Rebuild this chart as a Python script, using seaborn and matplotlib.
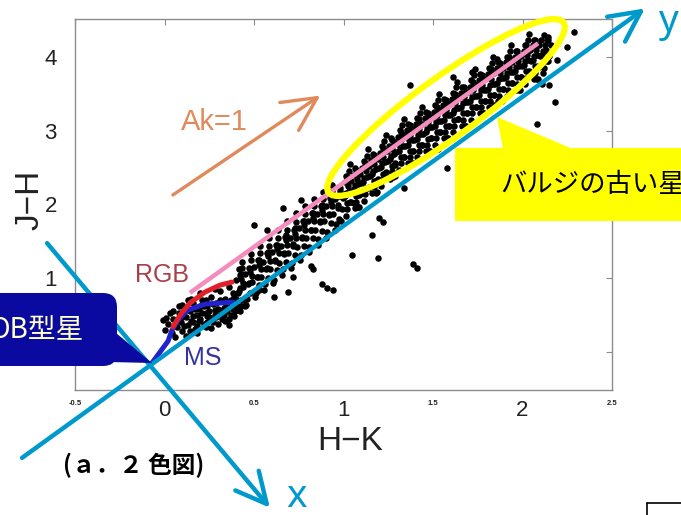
import numpy as np
import pandas as pd
import seaborn as sns
import matplotlib
matplotlib.use("Agg")
import matplotlib.pyplot as plt
from matplotlib.patches import Ellipse, Polygon, FancyBboxPatch, ArrowStyle
from matplotlib.transforms import Affine2D

# ---------------- data ----------------
# clump of stars near the origin (RGB / MS region)
hk_clump = [0.00, 0.02, 0.04, 0.05, 0.07, 0.08, 0.09, 0.10, 0.11, 0.12, 0.13, 0.14, 0.15, 0.16, 0.17,
            0.18, 0.19, 0.20, 0.21, 0.22, 0.23, 0.24, 0.25, 0.26, 0.27, 0.28, 0.29, 0.30, 0.31, 0.32,
            0.33, 0.34, 0.35, 0.36, 0.37, 0.38, 0.39, 0.40, 0.06, 0.03, -0.01, 0.12, 0.18, 0.24, 0.30,
            0.36, 0.42, 0.44, 0.20, 0.15, 0.28, 0.10, 0.45,
            0.05, 0.08, 0.11, 0.13, 0.14, 0.16, 0.17, 0.19, 0.21, 0.22, 0.23, 0.25, 0.26, 0.27, 0.29,
            0.30, 0.32, 0.33, 0.34, 0.35, 0.37, 0.38, 0.40, 0.41, 0.43, 0.09, 0.13, 0.18, 0.23, 0.26,
            0.31, 0.36, 0.01, 0.07, 0.20, 0.28, 0.33, 0.39, 0.24, 0.16]
jh_clump = [0.30, 0.38, 0.25, 0.45, 0.33, 0.52, 0.40, 0.28, 0.60, 0.47, 0.36, 0.55, 0.42, 0.66, 0.31,
            0.50, 0.58, 0.44, 0.70, 0.37, 0.53, 0.62, 0.47, 0.75, 0.40, 0.57, 0.66, 0.50, 0.82, 0.45,
            0.60, 0.72, 0.55, 0.88, 0.50, 0.68, 0.78, 0.62, 0.20, 0.52, 0.43, 0.22, 0.35, 0.40, 0.38,
            0.45, 0.55, 0.70, 0.80, 0.72, 0.85, 0.64, 0.62,
            0.55, 0.62, 0.35, 0.70, 0.28, 0.48, 0.58, 0.42, 0.52, 0.62, 0.34, 0.56, 0.44, 0.65, 0.47,
            0.58, 0.55, 0.68, 0.42, 0.62, 0.70, 0.58, 0.72, 0.80, 0.62, 0.47, 0.58, 0.26, 0.70, 0.32,
            0.70, 0.36, 0.46, 0.42, 0.62, 0.50, 0.50, 0.48, 0.48, 0.40]

# reddened giants along the reddening band, lower part
hk_band_lo = [0.41, 0.39, 0.42, 0.40, 0.43, 0.38, 0.395, 0.415,
              0.46, 0.44, 0.47, 0.45, 0.48, 0.43, 0.455, 0.435,
              0.51, 0.49, 0.52, 0.50, 0.53, 0.48, 0.505, 0.485,
              0.56, 0.54, 0.57, 0.55, 0.58, 0.53, 0.555, 0.535,
              0.61, 0.59, 0.62, 0.60, 0.63, 0.58, 0.605, 0.585,
              0.66, 0.64, 0.67, 0.65, 0.68, 0.63, 0.655, 0.635,
              0.71, 0.69, 0.72, 0.70, 0.73, 0.68, 0.705, 0.685,
              0.76, 0.74, 0.77, 0.75, 0.78, 0.73, 0.755, 0.735,
              0.81, 0.79, 0.82, 0.80, 0.83, 0.78, 0.805, 0.785,
              0.86, 0.84, 0.87, 0.85, 0.88, 0.83, 0.855, 0.835,
              0.91, 0.89, 0.92, 0.90, 0.93, 0.88, 0.905, 0.885,
              0.96, 0.94, 0.97, 0.95, 0.98, 0.93, 0.955, 0.935,
              0.975, 0.975, 0.972]
jh_band_lo = [0.62, 0.74, 0.86, 0.97, 1.05, 0.80, 0.55, 1.12,
              0.72, 0.88, 0.93, 1.06, 1.12, 0.99, 0.64, 1.22,
              0.80, 0.95, 1.02, 1.15, 1.24, 1.08, 0.74, 1.33,
              0.92, 1.01, 1.14, 1.22, 1.35, 1.18, 0.84, 1.43,
              0.98, 1.12, 1.24, 1.36, 1.45, 1.30, 0.94, 1.55,
              1.12, 1.20, 1.33, 1.44, 1.58, 1.39, 1.04, 1.66,
              1.20, 1.34, 1.47, 1.55, 1.68, 1.52, 1.14, 1.77,
              1.32, 1.42, 1.56, 1.68, 1.78, 1.60, 1.24, 1.88,
              1.42, 1.55, 1.65, 1.77, 1.89, 1.72, 1.35, 1.98,
              1.53, 1.66, 1.78, 1.87, 1.99, 1.82, 1.45, 2.08,
              1.62, 1.77, 1.86, 1.98, 2.08, 1.93, 1.55, 2.17,
              1.74, 1.87, 1.99, 2.08, 2.19, 2.03, 1.65, 2.27,
              1.80, 2.12, 1.95]

hk_band_lo2 = [0.429, 0.417, 0.437, 0.422, 0.433,
               0.479, 0.467, 0.487, 0.472, 0.483,
               0.529, 0.517, 0.537, 0.522, 0.533,
               0.579, 0.567, 0.587, 0.572, 0.583,
               0.629, 0.617, 0.637, 0.622, 0.633,
               0.679, 0.667, 0.687, 0.672, 0.683,
               0.729, 0.717, 0.737, 0.722, 0.733,
               0.779, 0.767, 0.787, 0.772, 0.783,
               0.829, 0.817, 0.837, 0.822, 0.833,
               0.879, 0.867, 0.887, 0.872, 0.883,
               0.929, 0.917, 0.937, 0.922, 0.933]
jh_band_lo2 = [0.70, 0.82, 0.93, 1.04, 1.14,
               0.80, 0.92, 1.03, 1.14, 1.24,
               0.90, 1.02, 1.13, 1.24, 1.34,
               1.00, 1.12, 1.23, 1.34, 1.44,
               1.11, 1.23, 1.34, 1.45, 1.55,
               1.22, 1.34, 1.45, 1.56, 1.66,
               1.32, 1.44, 1.55, 1.66, 1.76,
               1.43, 1.55, 1.66, 1.77, 1.87,
               1.54, 1.66, 1.77, 1.88, 1.98,
               1.64, 1.76, 1.87, 1.98, 2.08,
               1.75, 1.87, 1.98, 2.09, 2.19]

# old bulge stars, dense upper part of the band
hk_band_hi = [1.012, 0.990, 1.020, 0.996, 1.016, 0.982, 1.006, 1.022, 0.986,
              1.062, 1.040, 1.070, 1.046, 1.066, 1.032, 1.056, 1.072, 1.036,
              1.112, 1.090, 1.120, 1.096, 1.116, 1.082, 1.106, 1.122, 1.086,
              1.162, 1.140, 1.170, 1.146, 1.166, 1.132, 1.156, 1.172, 1.136,
              1.212, 1.190, 1.220, 1.196, 1.216, 1.182, 1.206, 1.222, 1.186,
              1.262, 1.240, 1.270, 1.246, 1.266, 1.232, 1.256, 1.272, 1.236,
              1.312, 1.290, 1.320, 1.296, 1.316, 1.282, 1.306, 1.322, 1.286,
              1.362, 1.340, 1.370, 1.346, 1.366, 1.332, 1.356, 1.372, 1.336,
              1.412, 1.390, 1.420, 1.396, 1.416, 1.382, 1.406, 1.422, 1.386,
              1.462, 1.440, 1.470, 1.446, 1.466, 1.432, 1.456, 1.472, 1.436,
              1.512, 1.490, 1.520, 1.496, 1.516, 1.482, 1.506, 1.522, 1.486,
              1.562, 1.540, 1.570, 1.546, 1.566, 1.532, 1.556, 1.572, 1.536,
              1.612, 1.590, 1.620, 1.596, 1.616, 1.582, 1.606, 1.622, 1.586,
              1.662, 1.640, 1.670, 1.646, 1.666, 1.632, 1.656, 1.672, 1.636,
              1.712, 1.690, 1.720, 1.696, 1.716, 1.682, 1.706, 1.722, 1.686,
              1.762, 1.740, 1.770, 1.746, 1.766, 1.732, 1.756, 1.772, 1.736,
              1.812, 1.790, 1.820, 1.796, 1.816, 1.782, 1.806, 1.822, 1.786,
              1.862, 1.840, 1.870, 1.846, 1.866, 1.832, 1.856, 1.872, 1.836,
              1.912, 1.890, 1.920, 1.896, 1.916, 1.882, 1.906, 1.922, 1.886,
              1.962, 1.940, 1.970, 1.946, 1.966, 1.932, 1.956, 1.972, 1.936,
              2.012, 1.990, 2.020, 1.996, 2.016, 1.982, 2.006, 2.022, 1.986,
              2.062, 2.040, 2.070, 2.046, 2.066, 2.032, 2.056, 2.072, 2.036,
              2.112, 2.090, 2.120, 2.096, 2.116, 2.082, 2.106, 2.122, 2.086,
              2.140, 2.150, 2.128, 2.160, 2.135, 2.145]
jh_band_hi = [1.85, 1.94, 2.02, 2.09, 2.16, 2.23, 2.30, 2.37, 1.77,
              1.95, 2.04, 2.12, 2.19, 2.26, 2.33, 2.40, 2.47, 2.55,
              2.05, 2.14, 2.22, 2.29, 2.36, 2.43, 2.50, 2.57, 1.97,
              2.15, 2.24, 2.32, 2.39, 2.46, 2.53, 2.60, 2.67, 2.75,
              2.25, 2.34, 2.42, 2.49, 2.56, 2.63, 2.70, 2.77, 2.17,
              2.35, 2.44, 2.52, 2.59, 2.66, 2.73, 2.80, 2.87, 2.95,
              2.47, 2.56, 2.64, 2.71, 2.78, 2.85, 2.92, 2.99, 2.39,
              2.56, 2.65, 2.73, 2.80, 2.87, 2.94, 3.01, 3.08, 3.16,
              2.64, 2.73, 2.81, 2.88, 2.95, 3.02, 3.09, 3.16, 2.56,
              2.72, 2.81, 2.89, 2.96, 3.03, 3.10, 3.17, 3.24, 3.32,
              2.81, 2.90, 2.98, 3.05, 3.12, 3.19, 3.26, 3.33, 2.73,
              2.90, 2.99, 3.07, 3.14, 3.21, 3.28, 3.35, 3.42, 3.50,
              2.98, 3.07, 3.15, 3.22, 3.29, 3.36, 3.43, 3.50, 2.90,
              3.07, 3.16, 3.24, 3.31, 3.38, 3.45, 3.52, 3.59, 3.67,
              3.15, 3.24, 3.32, 3.39, 3.46, 3.53, 3.60, 3.67, 3.07,
              3.24, 3.33, 3.41, 3.48, 3.55, 3.62, 3.69, 3.76, 3.84,
              3.32, 3.41, 3.49, 3.56, 3.63, 3.70, 3.77, 3.84, 3.24,
              3.40, 3.49, 3.57, 3.64, 3.71, 3.78, 3.85, 3.92, 4.00,
              3.48, 3.57, 3.65, 3.72, 3.79, 3.86, 3.93, 4.00, 3.40,
              3.56, 3.65, 3.73, 3.80, 3.87, 3.94, 4.01, 4.08, 4.16,
              3.64, 3.73, 3.81, 3.88, 3.95, 4.02, 4.09, 4.16, 3.56,
              3.71, 3.80, 3.88, 3.95, 4.02, 4.09, 4.16, 4.23, 4.31,
              3.78, 3.87, 3.95, 4.02, 4.09, 4.16, 4.23, 4.30, 3.70,
              3.95, 4.02, 4.09, 4.16, 4.23, 4.28]

hk_band_mid = [1.019, 1.039, 1.009, 1.033, 1.023, 1.043, 1.013, 1.029,
               1.069, 1.089, 1.059, 1.083, 1.073, 1.093, 1.063, 1.079,
               1.119, 1.139, 1.109, 1.133, 1.123, 1.143, 1.113, 1.129,
               1.169, 1.189, 1.159, 1.183, 1.173, 1.193, 1.163, 1.179,
               1.219, 1.239, 1.209, 1.233, 1.223, 1.243, 1.213, 1.229,
               1.269, 1.289, 1.259, 1.283, 1.273, 1.293, 1.263, 1.279,
               1.319, 1.339, 1.309, 1.333, 1.323, 1.343, 1.313, 1.329,
               1.369, 1.389, 1.359, 1.383, 1.373, 1.393, 1.363, 1.379,
               1.419, 1.439, 1.409, 1.433, 1.423, 1.443, 1.413, 1.429,
               1.469, 1.489, 1.459, 1.483, 1.473, 1.493, 1.463, 1.479,
               1.519, 1.539, 1.509, 1.533, 1.523, 1.543, 1.513, 1.529,
               1.569, 1.589, 1.559, 1.583, 1.573, 1.593, 1.563, 1.579,
               1.619, 1.639, 1.609, 1.633, 1.623, 1.643, 1.613, 1.629,
               1.669, 1.689, 1.659, 1.683, 1.673, 1.693, 1.663, 1.679,
               1.719, 1.739, 1.709, 1.733, 1.723, 1.743, 1.713, 1.729,
               1.769, 1.789, 1.759, 1.783, 1.773, 1.793, 1.763, 1.779,
               1.819, 1.839, 1.809, 1.833, 1.823, 1.843, 1.813, 1.829,
               1.869, 1.889, 1.859, 1.883, 1.873, 1.893, 1.863, 1.879,
               1.919, 1.939, 1.909, 1.933, 1.923, 1.943, 1.913, 1.929,
               1.969, 1.989, 1.959, 1.983, 1.973, 1.993, 1.963, 1.979,
               2.019, 2.039, 2.009, 2.033, 2.023, 2.043, 2.013, 2.029,
               2.069, 2.089, 2.059, 2.083, 2.073, 2.093, 2.063, 2.079,
               2.119, 2.139, 2.109, 2.133, 2.123, 2.143]
jh_band_mid = [1.94, 2.03, 2.11, 2.18, 2.25, 2.32, 2.39, 2.46,
               2.04, 2.13, 2.21, 2.28, 2.35, 2.42, 2.49, 1.96,
               2.14, 2.23, 2.31, 2.38, 2.45, 2.52, 2.59, 2.66,
               2.24, 2.33, 2.41, 2.48, 2.55, 2.62, 2.69, 2.16,
               2.34, 2.43, 2.51, 2.58, 2.65, 2.72, 2.79, 2.86,
               2.45, 2.54, 2.62, 2.69, 2.76, 2.83, 2.90, 2.37,
               2.56, 2.65, 2.73, 2.80, 2.87, 2.94, 3.01, 3.08,
               2.64, 2.73, 2.81, 2.88, 2.95, 3.02, 3.09, 2.56,
               2.72, 2.81, 2.89, 2.96, 3.03, 3.10, 3.17, 3.24,
               2.81, 2.90, 2.98, 3.05, 3.12, 3.19, 3.26, 2.73,
               2.90, 2.99, 3.07, 3.14, 3.21, 3.28, 3.35, 3.42,
               2.98, 3.07, 3.15, 3.22, 3.29, 3.36, 3.43, 2.90,
               3.07, 3.16, 3.24, 3.31, 3.38, 3.45, 3.52, 3.59,
               3.15, 3.24, 3.32, 3.39, 3.46, 3.53, 3.60, 3.07,
               3.24, 3.33, 3.41, 3.48, 3.55, 3.62, 3.69, 3.76,
               3.32, 3.41, 3.49, 3.56, 3.63, 3.70, 3.77, 3.24,
               3.40, 3.49, 3.57, 3.64, 3.71, 3.78, 3.85, 3.92,
               3.48, 3.57, 3.65, 3.72, 3.79, 3.86, 3.93, 3.40,
               3.56, 3.65, 3.73, 3.80, 3.87, 3.94, 4.01, 4.08,
               3.64, 3.73, 3.81, 3.88, 3.95, 4.02, 4.09, 3.56,
               3.72, 3.81, 3.89, 3.96, 4.03, 4.10, 4.17, 4.24,
               3.79, 3.88, 3.96, 4.03, 4.10, 4.17, 4.24, 3.71,
               3.86, 3.95, 4.03, 4.10, 4.17, 4.24]

# isolated stars
hk_out = [1.37, 1.86, 2.29, 2.25, 2.19, 2.15, 2.18, 2.08, 1.72, 1.58, 2.11, 1.22, 1.16, 1.05, 1.19,
          0.82, 0.83, 0.72, 0.91, 0.94, 0.69, 0.53, 0.61, 1.39, 1.41, 1.53, 1.34, 1.06, 1.20, 1.61,
          1.84, 0.76, 0.57, 0.50, 0.66, 0.88]
jh_out = [3.62, 3.98, 4.34, 4.14, 3.96, 3.62, 3.39, 3.10, 3.80, 2.49, 3.64, 1.76, 1.58, 1.31, 1.28,
          1.16, 1.13, 1.01, 0.86, 0.84, 0.81, 0.84, 0.74, 1.19, 1.14, 2.76, 2.22, 2.02, 1.81, 3.73,
          3.35, 2.06, 1.65, 1.72, 1.95, 0.92]

# intrinsic sequences
hk_rgb = [0.047, 0.087, 0.142, 0.226, 0.310, 0.377]
jh_rgb = [0.336, 0.498, 0.661, 0.810, 0.905, 0.946]
hk_ms = [-0.070, -0.025, 0.020, 0.042, 0.075, 0.131, 0.226, 0.383]
jh_ms = [-0.153, -0.004, 0.145, 0.294, 0.430, 0.566, 0.647, 0.674]

# bulge old-star fit line
hk_fit = [0.142, 2.087]
jh_fit = [0.80, 4.19]

# reddening vector (Ak = 1)
hk_red = [0.047, 0.87]
jh_red = [2.13, 3.48]

x_ticks = [-0.5, 0, 0.5, 1, 1.5, 2, 2.5]
x_ticklabels = ["-0.5", "0", "0.5", "1", "1.5", "2", "2.5"]
y_ticks = [0, 1, 2, 3, 4]
y_ticklabels = ["0", "1", "2", "3", "4"]

# ---------------- figure ----------------
sns.set_style("white")
plt.rcParams["font.family"] = ["Liberation Sans", "Noto Sans CJK JP", "DejaVu Sans"]

W, H = 681, 515
fig = plt.figure(figsize=(W / 100, H / 100), dpi=100)
PX = Affine2D().scale(1 / W, -1 / H).translate(0, 1) + fig.transFigure  # image-pixel coords

ax = fig.add_axes([75 / W, 1 - 390 / H, 537 / W, 371 / H])

df = pd.DataFrame({
    "H-K": hk_clump + hk_band_lo + hk_band_lo2 + hk_band_hi + hk_band_mid + hk_out,
    "J-H": jh_clump + jh_band_lo + jh_band_lo2 + jh_band_hi + jh_band_mid + jh_out,
})
sns.scatterplot(data=df, x="H-K", y="J-H", ax=ax, color="black", s=22, linewidth=0, zorder=2)

ax.set_xlim(-0.5, 2.5)
ax.set_ylim(-0.52, 4.52)

# frame & ticks
for sp in ax.spines.values():
    sp.set_color("#8c8c8c")
    sp.set_linewidth(1.0)
ax.set_xticks(x_ticks)
ax.set_xticklabels(x_ticklabels)
ax.set_yticks(y_ticks)
ax.set_yticklabels(y_ticklabels)
ax.tick_params(direction="in", length=4, width=0.8, color="#8c8c8c", top=True, right=True,
               labelcolor="#222222")
ax.tick_params(axis="x", pad=7)
ax.tick_params(axis="y", pad=13)
for lbl in ax.get_xticklabels():
    if lbl.get_text() in ("-0.5", "0.5", "1.5", "2.5"):
        lbl.set_fontsize(5.5)
        lbl.set_fontweight("bold")
    else:
        lbl.set_fontsize(16)
for lbl in ax.get_yticklabels():
    lbl.set_fontsize(16)

ax.set_xlabel("H−K", fontsize=24, color="#222222")
ax.set_ylabel("J−H", fontsize=24, color="#222222")
ax.xaxis.set_label_coords((350 - 75) / 537, (390 - 426) / 371)
ax.yaxis.label.set_verticalalignment("center")
ax.yaxis.set_label_coords((30 - 75) / 537, (390 - 200) / 371)

# intrinsic sequences and bulge line
sns.lineplot(x=hk_fit, y=jh_fit, ax=ax, color="#f58cbe", lw=3.2, sort=False, estimator=None,
             zorder=4, solid_capstyle="butt")
sns.lineplot(x=hk_ms, y=jh_ms, ax=ax, color="#2222cc", lw=3.6, sort=False, estimator=None, zorder=4)
sns.lineplot(x=hk_rgb, y=jh_rgb, ax=ax, color="#e2202a", lw=3.6, sort=False, estimator=None, zorder=5)
ax.text(-0.014, 1.04, "RGB", color="#a8404a", fontsize=18, ha="center", va="center", zorder=5)
ax.text(0.215, -0.09, "MS", color="#33339a", fontsize=18, ha="center", va="center", zorder=5)

# reddening arrow
ax.annotate("", xy=(hk_red[1], jh_red[1]), xytext=(hk_red[0], jh_red[0]),
            arrowprops=dict(arrowstyle=ArrowStyle("->", head_length=1.1, head_width=0.55),
                            mutation_scale=22, color="#e0895a", lw=2.4, shrinkA=0, shrinkB=0),
            zorder=5)
ax.text(0.28, 3.12, "Ak=1", color="#e0895a", fontsize=21, ha="center", va="center", zorder=5)

# yellow ellipse around bulge stars
ell = Ellipse((446, 107.5), width=290, height=60, angle=-35.9, transform=PX,
              fill=False, edgecolor="#ffff00", lw=4.5, zorder=6)
fig.add_artist(ell)

# blue callout (OB stars)
blue = "#0a0aa0"
fig.add_artist(FancyBboxPatch((-30, 293), 147, 73, boxstyle="round,pad=0,rounding_size=14",
                              transform=PX, facecolor=blue, edgecolor="none", zorder=6,
                              mutation_aspect=1))
fig.add_artist(Polygon([(110, 328), (152, 363), (110, 362)], closed=True, transform=PX,
                       facecolor=blue, edgecolor="none", zorder=6))
fig.text(84, 330, "OB型星", transform=PX, ha="right", va="center", fontsize=20,
         color="#ffffc8", family=["Noto Sans CJK JP", "DejaVu Sans"], zorder=7)

# yellow callout (old bulge stars)
fig.add_artist(Polygon([(455, 148), (700, 148), (700, 221), (455, 221)], closed=True, transform=PX,
                       facecolor="#ffff00", edgecolor="none", zorder=6))
fig.add_artist(Polygon([(497, 117), (503, 149), (573, 149)], closed=True, transform=PX,
                       facecolor="#ffff00", edgecolor="none", zorder=6))
fig.text(500, 185, "バルジの古い星", transform=PX, ha="left", va="center", fontsize=19,
         color="black", family=["Noto Sans CJK JP", "DejaVu Sans"], zorder=7)

# cyan x / y axes of the rotated frame
cyan = "#0099cc"
ax.annotate("", xy=(2.684, 4.664), xytext=(-0.796, -1.442), annotation_clip=False,
            arrowprops=dict(arrowstyle=ArrowStyle("->", head_length=1.0, head_width=0.5),
                            mutation_scale=22, color=cyan, lw=3.2, shrinkA=0, shrinkB=0),
            zorder=8)
ax.annotate("", xy=(0.589, -2.12), xytext=(-0.656, 1.475), annotation_clip=False,
            arrowprops=dict(arrowstyle=ArrowStyle("->", head_length=1.0, head_width=0.5),
                            mutation_scale=22, color=cyan, lw=3.2, shrinkA=0, shrinkB=0),
            zorder=8)
fig.text(668, 22, "y", transform=PX, ha="center", va="center", fontsize=28, color=cyan,
         family=["Noto Sans", "DejaVu Sans"], zorder=9)
fig.text(297, 497, "x", transform=PX, ha="center", va="center", fontsize=28, color=cyan,
         fontweight="bold", family=["Noto Sans", "DejaVu Sans"], zorder=9)

# caption
fig.text(63, 465, "(ａ．２ 色図)", transform=PX, ha="left", va="center", fontsize=17,
         fontweight="bold", color="black", family=["Noto Sans CJK JP", "DejaVu Sans"], zorder=9)

# corner box fragment
fig.add_artist(plt.Line2D([647, 690], [503, 503], transform=PX, color="black", lw=1.2))
fig.add_artist(plt.Line2D([647, 647], [503, 520], transform=PX, color="black", lw=1.2))

fig.savefig("out.png", dpi=100)
